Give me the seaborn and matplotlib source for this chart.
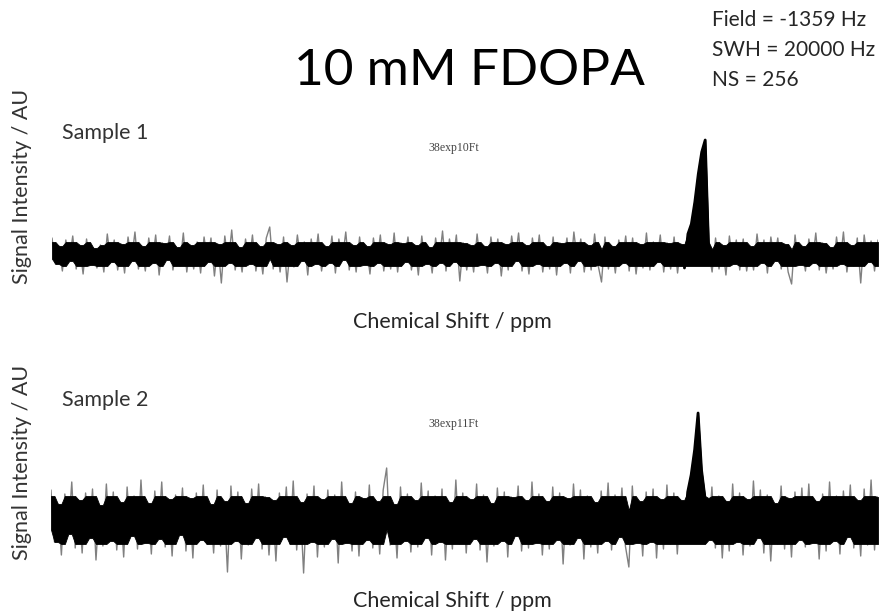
import numpy as np
import pandas as pd
import seaborn as sns
import matplotlib.pyplot as plt

# spectra (signal intensity, arbitrary units, baseline = 0)
sample1 = [
    16, -10, 8, -17, 14, -7, 18, -15, 9, -20, 15, -11, 6, -14, 9, -18, 20, -8, 14, -16,
    10, -19, 17, -7, 22, -15, 8, -17, 16, -9, 19, -21, 11, -6, 18, -16, 7, -12, 21, -18,
    9, -15, 12, -19, 17, -8, 16, -22, 10, -29, 18, -9, 24, -16, 7, -18, 15, -10, 19, -17,
    8, -20, 16, 27, -15, 10, -18, 17, -28, 9, -13, 19, -7, 12, -21, 15, -10, 20, -17, 8,
    -9, 18, -19, 15, -6, 22, -16, 9, -18, 17, -11, 8, -20, 16, -9, 19, -17, 10, -15, 21,
    -18, 11, -8, 17, -16, 9, -21, 18, -10, 7, -19, 16, -9, 23, -17, 15, -8, 19, -27, 11,
    -16, 9, -18, 20, -11, 8, -19, 17, -9, 15, -22, 10, -16, 18, -7, 21, -17, 9, -20, 16,
    -10, 19, -18, 8, -15, 17, -21, 11, -9, 16, -19, 22, -7, 15, -18, 9, -16, 20, -11, -28,
    17, -15, 8, -19, 14, -9, 18, -17, 16, -20, 10, -14, 21, -16, 12, -8, 19, -18, 11, -15,
    17, -19, 10, -14, 20, 30, 52, 80, 102, 114, 4, -18, 16, -15, 9, -21, 18, -10, 14, -16,
    15, -17, 8, -16, 20, -9, 14, -19, 17, -7, 16, -15, 10, -18, -30, 19, -11, 8, -17, 15,
    -9, 21, -16, 11, -19, 7, -15, 17, -10, 22, -18, 9, -12, 16, -29, 19, -8, 13, -17, 14,
]
sample2 = [
    30, -22, 16, -35, 26, -14, 38, -28, 20, -33, 27, -18, 31, -40, 15, -26, 36, -21, 28, -30,
    18, -37, 33, -16, 24, -29, 40, -23, 17, -34, 29, -19, 38, -27, 21, -36, 25, -15, 32, -31,
    22, -38, 27, -20, 35, -24, 16, -33, 30, -26, 19, -52, 34, -21, 28, -39, 17, -25, 31, -18,
    36, -29, 23, -35, 20, -41, 27, -17, 33, -24, 39, -30, 18, -53, 26, -22, 34, -37, 21, -27,
    30, -19, 25, -43, 38, -23, 17, -31, 28, -36, 22, -20, 35, -28, 19, -34, 30, 52, -25, 16,
    -38, 33, -21, 26, -32, 20, -27, 37, -18, 29, -35, 24, -22, 31, -40, 18, -29, 40, -24, 27,
    -33, 21, -19, 36, -30, 25, -42, 17, -26, 32, -21, 28, -37, 23, -16, 34, -31, 20, -28, 38,
    -23, 26, -35, 19, -29, 33, -20, 27, -44, 22, -25, 36, -18, 30, -39, 24, -27, 18, -33, 29,
    -21, 37, -30, 25, -17, 32, -26, -47, 34, -23, 19, -36, 28, -22, 31, -38, 21, -29, 35, -24,
    27, -34, 20, -19, 28, 45, 70, 107, 50, 22, -20, 33, -28, 24, -38, 19, -31, 36, -22, 27,
    -35, 21, -26, 39, -18, 30, -33, 25, -41, 17, -24, 34, -29, 22, -37, 28, -20, 32, -27, 36,
    -23, 19, -39, 26, -31, 38, -21, 24, -34, 29, -17, 35, -28, 20, -36, 31, -25, 40, -30, 23,
]
sample_names = ['Sample 1', 'Sample 2']
file_names = ['38exp10Ft', '38exp11Ft']
peak_windows = [(183, 191), (183, 190)]
core_levels = [12, 24]

sns.set_theme(style='white')
plt.rcParams['font.family'] = ['Lato', 'DejaVu Sans']

fig = plt.figure(figsize=(8.81, 6.12), dpi=100)
H = 612.0
W = 881.0

# axes boxes in pixels: left, right, top, bottom
boxes = [(52, 878, 130, 300), (51, 878, 400, 585)]
ylims = [(-46, 124), (-65, 120)]
spectra = [sample1, sample2]

for i, vals in enumerate(spectra):
    l, r, t, b = boxes[i]
    ax = fig.add_axes([l / W, 1 - b / H, (r - l) / W, (b - t) / H])
    df = pd.DataFrame({'point': np.arange(len(vals)), 'intensity': vals})
    c = core_levels[i]
    core = df['intensity'].clip(-c, c)
    upper = core.clip(lower=c * 0.4).rolling(2, min_periods=1).max()
    lower = core.clip(upper=-c * 0.4).rolling(2, min_periods=1).min()
    # under the peak the noise band carries on
    lower_wide = core.rolling(11, center=True, min_periods=1).min()
    p0, p1 = peak_windows[i]
    in_peak = (df['point'] >= p0) & (df['point'] < p1)
    upper[in_peak] = np.maximum(upper[in_peak], df['intensity'][in_peak])
    lower[in_peak] = lower_wide[in_peak]

    sns.lineplot(data=df, x='point', y='intensity', color='#808080', lw=1.0, ax=ax, zorder=1)
    ax.fill_between(df['point'], lower, upper, color='black', lw=0.6, edgecolor='black', zorder=2)
    sns.lineplot(data=df.iloc[p0:p1], x='point', y='intensity', color='black', lw=2.0, ax=ax, zorder=3)

    ax.set_xlim(0, len(vals) - 1)
    ax.set_ylim(*ylims[i])
    ax.set_axis_off()

# texts
fig.text(469 / W, 1 - 71 / H, '10 mM FDOPA', fontsize=37, color='black', ha='center', va='center')
info = ['Field = -1359 Hz', 'SWH = 20000 Hz', 'NS = 256']
for k, line in enumerate(info):
    fig.text(712 / W, 1 - (20 + k * 30) / H, line, fontsize=15, color='#262626', ha='left', va='center')

label_rows = [(133, 148, 322, 186), (400, 424, 601, 462)]
for i in range(2):
    ys, yf, yx, yy = label_rows[i]
    fig.text(62 / W, 1 - ys / H, sample_names[i], fontsize=15.5, color='#333333', ha='left', va='center')
    fig.text(454 / W, 1 - yf / H, file_names[i], fontsize=8.5, family='Liberation Serif', color='#444444',
             ha='center', va='center')
    fig.text(452 / W, 1 - yx / H, 'Chemical Shift / ppm', fontsize=15.5, color='#262626', ha='center', va='center')
    fig.text(22 / W, 1 - yy / H, 'Signal Intensity / AU', fontsize=15.5, color='#333333', rotation=90,
             ha='center', va='center')

fig.savefig('out.png', dpi=100, facecolor='white')
